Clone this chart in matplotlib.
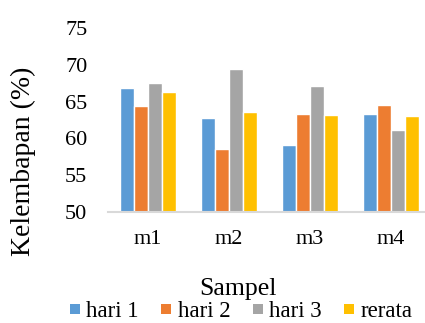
import matplotlib
matplotlib.use("Agg")
import matplotlib.pyplot as plt
import numpy as np
from matplotlib.lines import Line2D

plt.rcParams["font.family"] = ["Liberation Serif", "DejaVu Serif"]

samples = ["m1", "m2", "m3", "m4"]
series_names = ["hari 1", "hari 2", "hari 3", "rerata"]
hari_1 = [66.9, 62.8, 59.1, 63.3]
hari_2 = [64.4, 58.6, 63.3, 64.6]
hari_3 = [67.6, 69.5, 67.2, 61.1]
rerata = [66.3, 63.6, 63.2, 63.0]
colors = ["#5B9BD5", "#ED7D31", "#A5A5A5", "#FFC000"]

W, H = 425, 323
fig = plt.figure(figsize=(W / 100, H / 100), dpi=100)
# plot area in pixel coords: left 107.5, right edge runs off the figure
left, right, bottom, top = 107.5, 425, 211.7, 28.3
ax = fig.add_axes([left / W, 1 - bottom / H, (right - left) / W, (bottom - top) / H])

x = np.arange(len(samples))
slot = 0.173
for i, (vals, c) in enumerate(zip([hari_1, hari_2, hari_3, rerata], colors)):
    ax.bar(x + (i - 1.5) * slot, np.array(vals) - 50, bottom=50, width=slot,
           color=c, edgecolor="white", linewidth=1.0, zorder=2)

ax.set_ylim(50, 75)
ax.set_yticks(range(50, 76, 5))
ax.set_xlim(-0.5, 3.42)
ax.set_xticks(x)
ax.set_xticklabels(samples)

for side in ["top", "right", "left"]:
    ax.spines[side].set_visible(False)
ax.spines["bottom"].set_color("#D9D9D9")
ax.spines["bottom"].set_linewidth(1.5)
ax.tick_params(axis="both", length=0, labelsize=16, colors="#000000")
ax.tick_params(axis="y", pad=14.5)
ax.tick_params(axis="x", pad=13)

fig.text(23.5 / W, 1 - 161 / H, "Kelembapan (%)", rotation=90,
         ha="center", va="center", fontsize=20)
fig.text(238 / W, 1 - 289 / H, "Sampel", ha="center", va="center", fontsize=18.5)

# square swatches, 11 px wide
handles = [Line2D([], [], linestyle="none", marker="s", markersize=7.9,
                  markerfacecolor=c, markeredgewidth=0) for c in colors]
fig.legend(handles, series_names, loc="center", bbox_to_anchor=(241 / W, 1 - 311.5 / H),
           ncol=4, frameon=False, fontsize=16.5, handlelength=0.5,
           handletextpad=0.25, columnspacing=0.95, borderaxespad=0, borderpad=0)

fig.savefig("out.png", dpi=100)
